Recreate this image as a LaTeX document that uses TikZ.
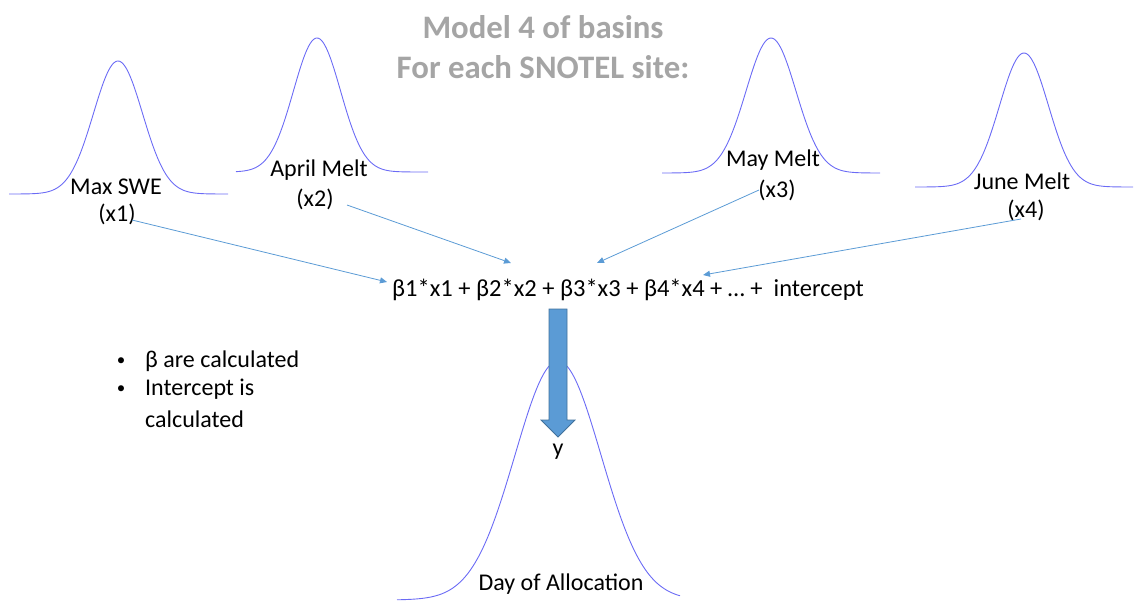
\documentclass[tikz,border=0pt]{standalone}
\usepackage{fontspec}
\setmainfont{Carlito}
\usetikzlibrary{arrows.meta}
\definecolor{curveblue}{HTML}{6B6BF5}
\definecolor{linkblue}{HTML}{5B9BD5}
\definecolor{blockedge}{HTML}{41719C}
\definecolor{titlegray}{HTML}{A5A5A5}
\tikzset{
  gauss/.style={draw=curveblue, line width=0.9pt, smooth},
  lbl/.style={font=\fontsize{24}{28}\selectfont, inner sep=0pt, align=center},
  ttl/.style={font=\fontsize{32.8}{40}\selectfont\bfseries, text=titlegray, inner sep=0pt, align=center},
  link/.style={draw=linkblue, line width=0.8pt, -{Triangle[length=7pt,width=6pt]}},
  block/.style={fill=linkblue, draw=blockedge, line width=0.8pt}
}
\begin{document}
\begin{tikzpicture}[x=1pt,y=-1pt]
\useasboundingbox (0,0) rectangle (1144,613);
% title
\node[ttl] (title) at (543,47) {Model 4 of basins\\For each SNOTEL site:};
% gaussian curves
\draw[gauss] plot[domain=-109:110, samples=120] ({118+\x},{194-133*exp(-0.5*((\x)/24.5)^2)});
\draw[gauss] plot[domain=-81:111, samples=120] ({317+\x},{172-134*exp(-0.5*((\x)/23.5)^2)});
\draw[gauss] plot[domain=-109:109, samples=120] ({771+\x},{173-135*exp(-0.5*((\x)/25)^2)});
\draw[gauss] plot[domain=-109:109, samples=120] ({1024+\x},{187-134*exp(-0.5*((\x)/24.5)^2)});
\draw[gauss] plot[domain=-161:122, samples=150] ({558+\x},{600-239*exp(-0.5*((\x)/43)^2)});
% labels
\node[lbl] (l1) at (116,187) {Max SWE};
\node[lbl] (x1) at (117,214) {(x1)};
\node[lbl] (l2) at (319,170) {April Melt};
\node[lbl] (x2) at (315,199) {(x2)};
\node[lbl] (l3) at (773,160) {May Melt};
\node[lbl] (x3) at (777,190) {(x3)};
\node[lbl] (l4) at (1022,181) {June Melt};
\node[lbl] (x4) at (1026,210) {(x4)};
% equation
\node[lbl, anchor=west, font=\fontsize{24.5}{28}\selectfont] (eq) at (392,290) {β1*x1 + β2*x2 + β3*x3 + β4*x4 + … +\ \ intercept};
% connector coordinates
\coordinate (s1) at (132,220);
\coordinate (e1) at (387,282);
\coordinate (s2) at (347,205);
\coordinate (e2) at (511,263);
\coordinate (s3) at (759,190);
\coordinate (e3) at (597,263);
\coordinate (s4) at (1021,219);
\coordinate (e4) at (703,275);
\draw[link] (s1) -- (e1);
\draw[link] (s2) -- (e2);
\draw[link] (s3) -- (e3);
\draw[link] (s4) -- (e4);
% block arrow
\draw[block] (549,309) -- (567,309) -- (567,420) -- (575,420) -- (558,437) -- (541,420) -- (549,420) -- cycle;
\node[lbl] (y) at (558,452) {y};
\node[lbl] (day) at (561,584) {Day of Allocation};
% bullets
\node[lbl, font=\fontsize{17}{20}\selectfont] (b1) at (121,362) {•};
\node[lbl, font=\fontsize{17}{20}\selectfont] (b2) at (121,390) {•};
\node[lbl, anchor=west] (t1) at (145,361) {β are calculated};
\node[lbl, anchor=west] (t2) at (145,389) {Intercept is};
\node[lbl, anchor=west] (t3) at (145,419) {calculated};
\end{tikzpicture}
\end{document}
